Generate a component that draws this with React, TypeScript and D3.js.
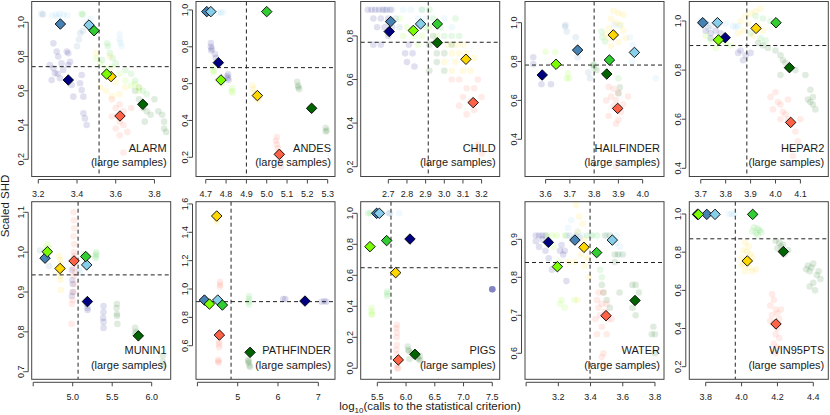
import React from 'react';
import * as d3 from 'd3';

type Pt = [number, number];
type Cloud = Record<string, Pt[]>;

const METHODS = ['navy', 'steelblue', 'lightskyblue', 'gold', 'chartreuse', 'limegreen', 'darkgreen', 'tomato'];
const COLORS: Record<string, string> = {
  navy: '#000080', steelblue: '#4682B4', lightskyblue: '#87CEEB', gold: '#FFD700',
  chartreuse: '#7CFC00', limegreen: '#32CD32', darkgreen: '#006400', tomato: '#FF6347',
};

// ---------- ALARM ----------
const alarmDiamonds: Record<string, Pt> = {
  navy: [3.355, 0.663], steelblue: [3.314, 0.99], lightskyblue: [3.462, 0.984], gold: [3.576, 0.683],
  chartreuse: [3.553, 0.698], limegreen: [3.488, 0.951], darkgreen: [3.74, 0.521], tomato: [3.622, 0.453],
};
const alarmCloud: Cloud = {
  navy: [[3.278, 0.877], [3.295, 0.829], [3.303, 0.8], [3.347, 0.829], [3.355, 0.819], [3.364, 0.77], [3.26, 0.751], [3.278, 0.731], [3.286, 0.702], [3.269, 0.663], [3.312, 0.673], [3.329, 0.722], [3.355, 0.751], [3.372, 0.634], [3.381, 0.566], [3.416, 0.644], [3.424, 0.605], [3.433, 0.566], [3.433, 0.469], [3.441, 0.439], [3.45, 0.4], [3.424, 0.692], [3.3, 0.7], [3.32, 0.76]],
  steelblue: [[3.217, 1.049], [3.225, 1.045], [3.416, 0.936], [3.41, 0.9], [3.4, 0.86], [3.43, 0.95]],
  lightskyblue: [[3.29, 1.045], [3.31, 1.05], [3.33, 1.045], [3.35, 1.04], [3.3, 1.03], [3.45, 1.0], [3.47, 1.02], [3.62, 0.93], [3.62, 0.9], [3.625, 0.88], [3.63, 0.86], [3.27, 1.04]],
  gold: [[3.52, 0.62], [3.55, 0.6], [3.58, 0.57], [3.6, 0.65], [3.62, 0.58], [3.65, 0.62], [3.5, 0.82], [3.57, 0.8], [3.72, 0.62]],
  chartreuse: [[3.5, 0.79], [3.52, 0.76], [3.55, 0.73], [3.58, 0.74], [3.62, 0.7], [3.65, 0.66], [3.68, 0.63], [3.7, 0.64], [3.72, 0.6]],
  limegreen: [[3.424, 1.049], [3.43, 1.045], [3.555, 0.877], [3.56, 0.86], [3.57, 0.82], [3.585, 0.79], [3.53, 0.78], [3.6, 0.76], [3.65, 0.72], [3.68, 0.7], [3.7, 0.66], [3.72, 0.62], [3.74, 0.6], [3.76, 0.58]],
  darkgreen: [[3.72, 0.55], [3.74, 0.5], [3.76, 0.48], [3.78, 0.46], [3.8, 0.55], [3.82, 0.48], [3.84, 0.46], [3.85, 0.42], [3.85, 0.38], [3.86, 0.36], [3.75, 0.42], [3.7, 0.6]],
  tomato: [[3.58, 0.55], [3.6, 0.5], [3.62, 0.52], [3.64, 0.48], [3.62, 0.42], [3.64, 0.4], [3.6, 0.38], [3.66, 0.36], [3.62, 0.34], [3.68, 0.5], [3.64, 0.24], [3.58, 0.45]],
};

// ---------- ANDES ----------
const andesDiamonds: Record<string, Pt> = {
  navy: [4.762, 0.714], steelblue: [4.705, 0.991], lightskyblue: [4.725, 0.991], gold: [4.954, 0.535],
  chartreuse: [4.775, 0.62], limegreen: [5.0, 0.991], darkgreen: [5.221, 0.466], tomato: [5.062, 0.216],
};
const andesCloud: Cloud = {
  lightskyblue: [[4.76, 0.985], [4.775, 0.985], [4.785, 0.988]],
  navy: [[4.725, 0.82], [4.725, 0.8], [4.727, 0.78], [4.73, 0.79], [4.745, 0.76], [4.75, 0.74], [4.81, 0.65], [4.81, 0.63], [4.812, 0.62], [4.805, 0.64]],
  chartreuse: [[4.735, 0.69], [4.737, 0.67], [4.74, 0.66], [4.83, 0.575], [4.828, 0.56], [4.83, 0.55], [4.78, 0.6], [4.77, 0.61]],
  gold: [[4.93, 0.59], [4.935, 0.57], [4.94, 0.55], [4.95, 0.52], [4.96, 0.51], [4.965, 0.53]],
  darkgreen: [[5.15, 0.61], [5.155, 0.59], [5.16, 0.57], [5.155, 0.58], [5.29, 0.36], [5.295, 0.345], [5.29, 0.34]],
  tomato: [[5.05, 0.31], [5.045, 0.29], [5.05, 0.27], [5.055, 0.25], [5.06, 0.23], [5.065, 0.19], [5.07, 0.17], [5.07, 0.15]],
};

// ---------- CHILD ----------
const childDiamonds: Record<string, Pt> = {
  navy: [2.705, 0.82], steelblue: [2.7125, 0.866], lightskyblue: [2.873, 0.855], gold: [3.116, 0.693],
  chartreuse: [2.834, 0.825], limegreen: [2.9625, 0.855], darkgreen: [2.9625, 0.769], tomato: [3.155, 0.494],
};
const childCloud: Cloud = {
  navy: [[2.59, 0.92], [2.61, 0.92], [2.63, 0.92], [2.65, 0.92], [2.67, 0.92], [2.69, 0.92], [2.71, 0.92], [2.62, 0.88], [2.66, 0.88], [2.7, 0.88], [2.64, 0.84], [2.68, 0.84], [2.72, 0.84], [2.7, 0.8], [2.66, 0.76], [2.62, 0.76], [2.81, 0.76], [2.79, 0.72], [2.83, 0.72], [2.8, 0.68], [2.84, 0.66]],
  steelblue: [[2.68, 0.92], [2.72, 0.92], [2.74, 0.88], [2.7, 0.86], [2.76, 0.84]],
  lightskyblue: [[2.78, 0.92], [2.82, 0.92], [2.86, 0.88], [2.9, 0.88], [2.84, 0.84], [2.88, 0.92], [3.0, 0.88], [3.04, 0.84]],
  chartreuse: [[2.76, 0.88], [2.8, 0.84], [2.84, 0.8], [2.88, 0.8], [2.92, 0.84], [2.96, 0.8], [2.78, 0.8], [2.86, 0.76]],
  limegreen: [[2.88, 0.92], [2.92, 0.92], [2.94, 0.88], [2.98, 0.84], [3.0, 0.8], [3.04, 0.8], [3.08, 0.8], [2.9, 0.84], [3.06, 0.88]],
  darkgreen: [[2.92, 0.76], [2.96, 0.72], [3.0, 0.72], [2.96, 0.68], [2.92, 0.64], [3.0, 0.64], [3.04, 0.76], [2.94, 0.8]],
  gold: [[3.02, 0.76], [3.06, 0.76], [3.1, 0.76], [3.04, 0.72], [3.08, 0.72], [3.12, 0.72], [3.0, 0.68], [3.06, 0.68], [3.1, 0.64], [3.14, 0.64], [3.04, 0.64], [3.16, 0.7]],
  tomato: [[3.04, 0.6], [3.08, 0.6], [3.12, 0.56], [3.16, 0.56], [3.1, 0.52], [3.14, 0.5], [3.08, 0.48], [3.16, 0.46], [3.12, 0.44], [3.18, 0.6], [3.2, 0.52], [3.18, 0.3], [3.2, 0.26], [3.16, 0.28]],
};

// ---------- HAILFINDER ----------
const hailDiamonds: Record<string, Pt> = {
  navy: [3.586, 0.731], steelblue: [3.732, 0.859], lightskyblue: [3.966, 0.847], gold: [3.879, 0.937],
  chartreuse: [3.643, 0.786], limegreen: [3.863, 0.808], darkgreen: [3.852, 0.736], tomato: [3.897, 0.559],
};
const hailCloud: Cloud = {
  navy: [[3.549, 0.822], [3.549, 0.787], [3.583, 0.683], [3.622, 0.683], [3.583, 0.72]],
  steelblue: [[3.682, 0.988], [3.687, 0.954], [3.724, 0.925], [3.732, 0.822], [3.776, 0.744], [3.783, 0.714], [3.68, 0.98]],
  lightskyblue: [[3.883, 0.988], [3.905, 0.984], [3.948, 0.925], [3.96, 0.885], [4.054, 0.714], [3.955, 0.8]],
  chartreuse: [[3.6, 0.851], [3.64, 0.848], [3.687, 0.714], [3.697, 0.714], [3.692, 0.74]],
  limegreen: [[3.831, 0.954], [3.834, 0.925], [3.845, 0.903], [3.9, 0.714], [3.797, 0.782], [3.8, 0.765]],
  darkgreen: [[3.797, 0.782], [3.81, 0.756], [3.906, 0.667], [3.9, 0.636]],
  gold: [[3.88, 1.06], [3.9, 1.05], [3.92, 1.04], [3.87, 1.02], [3.89, 1.0], [3.91, 0.99], [3.86, 0.97], [3.88, 0.95], [3.92, 0.96], [3.86, 0.92], [3.9, 0.9], [3.87, 0.88], [3.93, 0.92], [3.85, 0.94]],
  tomato: [[3.86, 0.67], [3.88, 0.66], [3.9, 0.64], [3.87, 0.62], [3.85, 0.6], [3.89, 0.6], [3.92, 0.58], [3.88, 0.57], [3.91, 0.54], [3.86, 0.52], [3.9, 0.5], [3.89, 0.48], [3.94, 0.62], [3.9, 0.28], [3.89, 0.26]],
};

// ---------- HEPAR2 ----------
const heparDiamonds: Record<string, Pt> = {
  navy: [3.798, 0.932], steelblue: [3.708, 0.993], lightskyblue: [3.767, 0.993], gold: [3.922, 0.97],
  chartreuse: [3.771, 0.923], limegreen: [4.002, 0.993], darkgreen: [4.056, 0.81], tomato: [4.061, 0.587],
};
const heparCloud: Cloud = {
  steelblue: [[3.7, 1.0], [3.72, 0.99], [3.74, 0.98], [3.73, 0.97]],
  lightskyblue: [[3.83, 0.98], [3.85, 0.98], [3.84, 0.975], [3.8, 0.99]],
  navy: [[3.72, 0.96], [3.74, 0.95], [3.76, 0.96], [3.78, 0.95], [3.74, 0.93], [3.86, 0.88], [3.88, 0.86], [3.87, 0.84], [3.85, 0.87], [3.9, 0.87]],
  chartreuse: [[3.72, 0.94], [3.74, 0.92], [3.76, 0.89], [3.8, 0.91], [3.82, 0.9], [3.78, 0.92]],
  limegreen: [[3.92, 1.02], [3.95, 1.01], [3.98, 1.0], [3.9, 0.95], [3.94, 0.93], [3.96, 0.92]],
  gold: [[3.86, 1.0], [3.88, 1.02], [3.9, 1.03], [3.92, 1.04], [3.94, 1.05], [3.89, 0.99], [3.93, 0.98], [3.95, 0.96], [3.87, 0.96], [3.91, 0.94], [3.85, 0.95]],
  darkgreen: [[3.93, 0.91], [3.95, 0.9], [3.97, 0.89], [4.0, 0.88], [4.02, 0.86], [4.03, 0.84], [4.04, 0.83], [4.02, 0.78], [4.08, 0.8], [4.12, 0.78], [4.14, 0.72], [4.15, 0.69], [4.14, 0.67], [4.15, 0.66], [4.16, 0.64], [4.13, 0.68]],
  tomato: [[4.0, 0.71], [3.98, 0.69], [4.01, 0.67], [4.02, 0.66], [3.99, 0.64], [4.03, 0.63], [4.04, 0.62], [4.05, 0.6], [4.02, 0.6], [4.06, 0.58], [4.08, 0.55], [4.09, 0.51], [4.06, 0.48], [4.07, 0.45], [4.1, 0.6], [4.05, 0.68]],
};

// ---------- MUNIN1 ----------
const muninDiamonds: Record<string, Pt> = {
  navy: [5.186, 0.876], steelblue: [4.65, 0.985], lightskyblue: [5.177, 0.968], gold: [4.84, 0.959],
  chartreuse: [4.679, 1.001], limegreen: [5.165, 0.989], darkgreen: [5.831, 0.79], tomato: [5.017, 0.978],
};
const muninCloud: Cloud = {
  steelblue: [[4.586, 1.004], [4.7, 0.965]],
  chartreuse: [[4.66, 1.01], [4.68, 1.02], [4.7, 1.01]],
  gold: [[4.83, 0.99], [4.84, 0.98], [4.85, 0.97], [4.83, 0.95], [4.84, 0.94], [4.845, 0.93], [4.85, 0.905], [4.82, 0.96]],
  tomato: [[5.01, 1.1], [5.015, 1.08], [5.02, 1.06], [5.01, 1.04], [5.02, 1.02], [5.015, 1.0], [5.02, 0.99], [5.01, 0.96], [5.015, 0.94], [5.02, 0.92], [5.01, 0.9], [5.0, 0.88], [4.99, 0.87], [4.985, 0.82], [5.03, 0.95]],
  navy: [[4.99, 0.955], [4.995, 0.93], [5.0, 0.92], [4.99, 0.89], [5.0, 0.9], [5.18, 0.87], [5.185, 0.86], [5.19, 0.855], [5.39, 0.865], [5.39, 0.85], [5.385, 0.835], [5.39, 0.825], [5.39, 0.81]],
  lightskyblue: [[5.08, 0.955], [5.09, 0.95]],
  limegreen: [[5.295, 1.0], [5.3, 0.995], [5.29, 0.99], [5.29, 0.985], [5.14, 0.995]],
  darkgreen: [[5.56, 0.87], [5.555, 0.86], [5.56, 0.845], [5.56, 0.84], [5.565, 0.82], [5.79, 0.81], [5.8, 0.8], [5.79, 0.795], [6.14, 0.74], [6.14, 0.725], [6.15, 0.715]],
};

// ---------- PATHFINDER ----------
const pathDiamonds: Record<string, Pt> = {
  navy: [6.669, 0.915], steelblue: [4.174, 0.922], lightskyblue: [4.504, 0.922], gold: [4.479, 1.515],
  chartreuse: [4.298, 0.894], limegreen: [4.62, 0.887], darkgreen: [5.306, 0.553], tomato: [4.545, 0.675],
};
const pathCloud: Cloud = {
  gold: [[4.48, 1.475], [4.48, 1.49]],
  tomato: [[4.56, 1.05], [4.565, 1.03], [4.56, 1.016], [4.54, 0.63], [4.535, 0.61], [4.54, 0.59], [4.52, 0.5], [4.525, 0.48], [4.52, 0.49]],
  limegreen: [[5.28, 0.95], [5.28, 0.93], [5.275, 0.91], [5.28, 0.89]],
  darkgreen: [[5.26, 0.5], [5.27, 0.48], [5.29, 0.46], [5.31, 0.45], [5.27, 0.49]],
  navy: [[6.13, 0.93], [6.18, 0.93], [7.08, 0.91], [7.2, 0.91], [7.15, 0.915]],
};

// ---------- PIGS ----------
const pigsDiamonds: Record<string, Pt> = {
  navy: [6.068, 0.834], steelblue: [5.488, 1.0], lightskyblue: [5.535, 1.0], gold: [5.819, 0.617],
  chartreuse: [5.372, 0.785], limegreen: [5.662, 0.824], darkgreen: [6.155, 0.09], tomato: [5.865, 0.054],
};
const pigsCloud: Cloud = {
  limegreen: [[5.34, 1.0], [5.38, 1.0], [5.67, 0.495], [5.675, 0.48], [5.67, 0.465]],
  chartreuse: [[5.4, 0.39], [5.4, 0.37], [5.405, 0.35], [5.4, 0.345]],
  steelblue: [[5.72, 1.0], [5.7, 1.0]],
  lightskyblue: [[5.88, 1.0], [5.6, 1.0]],
  navy: [[7.5, 0.51], [7.5, 0.51], [7.5, 0.51], [7.5, 0.51], [7.5, 0.51]],
  tomato: [[5.84, 0.28], [5.83, 0.26], [5.84, 0.23], [5.835, 0.2], [5.84, 0.15], [5.83, 0.12], [5.845, 0.09], [5.84, 0.02], [5.85, 0.0], [5.86, 0.0]],
  darkgreen: [[6.03, 0.14], [6.04, 0.12], [6.05, 0.11], [6.1, 0.1], [6.15, 0.08], [6.2, 0.07], [6.22, 0.06], [6.24, 0.08], [6.06, 0.06], [6.25, 0.05]],
};

// ---------- WATER ----------
const waterDiamonds: Record<string, Pt> = {
  navy: [3.138, 0.892], steelblue: [3.303, 0.898], lightskyblue: [3.535, 0.898], gold: [3.359, 0.879],
  chartreuse: [3.194, 0.828], limegreen: [3.438, 0.865], darkgreen: [3.676, 0.739], tomato: [3.496, 0.699],
};
const waterCloud: Cloud = {
  navy: [[3.06, 0.91], [3.08, 0.91], [3.1, 0.91], [3.12, 0.91], [3.06, 0.895], [3.08, 0.88], [3.12, 0.87], [3.14, 0.85], [3.22, 0.885], [3.24, 0.87], [3.23, 0.86], [3.21, 0.87], [3.16, 0.82], [3.25, 0.79], [3.1, 0.9]],
  steelblue: [[3.25, 0.91], [3.27, 0.91], [3.29, 0.9], [3.31, 0.91], [3.33, 0.905]],
  lightskyblue: [[3.32, 0.92], [3.35, 0.91], [3.4, 0.91], [3.5, 0.91], [3.56, 0.91], [3.58, 0.88], [3.58, 0.86], [3.56, 0.89], [3.28, 0.95], [3.26, 0.93]],
  chartreuse: [[3.13, 0.91], [3.16, 0.91], [3.19, 0.91], [3.24, 0.91], [3.17, 0.88], [3.2, 0.84], [3.22, 0.74], [3.21, 0.73], [3.24, 0.72], [3.3, 0.74]],
  limegreen: [[3.38, 0.91], [3.41, 0.91], [3.44, 0.91], [3.46, 0.82], [3.47, 0.8]],
  gold: [[3.31, 0.99], [3.33, 0.96], [3.35, 0.94], [3.32, 0.92], [3.36, 0.9], [3.38, 0.88], [3.34, 0.86], [3.3, 0.84], [3.36, 0.83], [3.26, 0.84], [3.39, 0.8], [3.32, 0.74], [3.38, 0.85]],
  darkgreen: [[3.49, 0.91], [3.52, 0.91], [3.55, 0.86], [3.57, 0.86], [3.6, 0.86], [3.55, 0.84], [3.47, 0.78], [3.48, 0.76], [3.5, 0.74], [3.52, 0.72], [3.66, 0.78], [3.68, 0.78], [3.7, 0.76], [3.66, 0.72], [3.68, 0.7], [3.78, 0.65], [3.8, 0.65], [3.79, 0.67], [3.8, 0.6], [3.58, 0.76]],
  tomato: [[3.45, 0.76], [3.48, 0.76], [3.44, 0.74], [3.47, 0.73], [3.5, 0.73], [3.45, 0.72], [3.49, 0.71], [3.46, 0.7], [3.43, 0.69], [3.51, 0.69], [3.47, 0.67], [3.44, 0.65], [3.5, 0.65], [3.48, 0.6], [3.47, 0.59], [3.48, 0.57], [3.53, 0.69]],
};

// ---------- WIN95PTS ----------
const winDiamonds: Record<string, Pt> = {
  navy: [3.754, 0.998], steelblue: [3.806, 0.998], lightskyblue: [3.852, 0.998], gold: [4.032, 0.754],
  chartreuse: [3.759, 0.998], limegreen: [4.062, 0.998], darkgreen: [4.233, 0.803], tomato: [4.192, 0.424],
};
const winCloud: Cloud = {
  lightskyblue: [[3.93, 1.0], [3.945, 1.0], [3.96, 1.0]],
  limegreen: [[4.07, 0.93], [4.09, 0.925], [4.1, 0.915], [4.08, 0.9], [4.11, 0.905], [4.09, 0.89], [4.06, 0.91]],
  darkgreen: [[4.19, 0.86], [4.21, 0.85], [4.23, 0.84], [4.26, 0.81], [4.2, 0.82], [4.24, 0.79], [4.22, 0.83], [4.37, 0.73], [4.39, 0.72], [4.4, 0.74], [4.38, 0.7], [4.42, 0.68], [4.44, 0.66], [4.4, 0.64], [4.38, 0.62], [4.41, 0.6], [4.36, 0.71], [4.43, 0.7]],
  gold: [[4.02, 0.85], [4.04, 0.83], [4.01, 0.81], [4.03, 0.8], [4.05, 0.79], [4.0, 0.77], [4.02, 0.76], [4.06, 0.77], [4.0, 0.73], [4.04, 0.72], [4.06, 0.7], [4.02, 0.7], [4.08, 0.71], [4.01, 0.74]],
  tomato: [[4.17, 0.58], [4.18, 0.55], [4.16, 0.52], [4.19, 0.5], [4.2, 0.48], [4.17, 0.47], [4.21, 0.45], [4.18, 0.43], [4.2, 0.4], [4.19, 0.37], [4.21, 0.35], [4.18, 0.32], [4.2, 0.3], [4.19, 0.27], [4.22, 0.5], [4.16, 0.44]],
};

// ---------- panel settings ----------
const PANEL_NAMES = ['ALARM', 'ANDES', 'CHILD', 'HAILFINDER', 'HEPAR2', 'MUNIN1', 'PATHFINDER', 'PIGS', 'WATER', 'WIN95PTS'];
const X_DOMAINS: Pt[] = [[3.166, 3.884], [4.652, 5.336], [2.552, 3.297], [3.515, 4.088], [3.654, 4.212], [4.481, 6.2405], [3.965, 7.414], [5.211, 7.629], [2.993, 3.856], [3.7085, 4.4837]];
const Y_DOMAINS: Pt[] = [[0.0996, 1.1215], [0.0957, 1.046], [0.155, 0.958], [0.2085, 1.109], [0.3666, 1.0794], [0.681, 1.1266], [0.363, 1.616], [-0.071, 1.075], [0.5316, 0.999], [0.134, 1.0644]];
const X_TICKS: number[][] = [[3.2, 3.4, 3.6, 3.8], [4.7, 4.8, 4.9, 5.0, 5.1, 5.2, 5.3], [2.7, 2.8, 2.9, 3.0, 3.1, 3.2], [3.6, 3.7, 3.8, 3.9, 4.0], [3.7, 3.8, 3.9, 4.0, 4.1], [5.0, 5.5, 6.0], [5, 6, 7], [5.5, 6.0, 6.5, 7.0, 7.5], [3.2, 3.4, 3.6, 3.8], [3.8, 4.0, 4.2, 4.4]];
const X_UNLABELLED: number[][] = [[], [], [], [], [], [4.5], [4], [], [3.0], []];
const X_FORMATS = ['.1f', '.1f', '.1f', '.1f', '.1f', '.1f', 'd', '.1f', '.1f', '.1f'];
const Y_TICKS: number[][] = [[0.2, 0.4, 0.6, 0.8, 1.0], [0.2, 0.4, 0.6, 0.8, 1.0], [0.2, 0.4, 0.6, 0.8], [0.4, 0.6, 0.8, 1.0], [0.4, 0.6, 0.8, 1.0], [0.7, 0.8, 0.9, 1.0, 1.1], [0.6, 0.8, 1.0, 1.2, 1.4, 1.6], [0.0, 0.2, 0.4, 0.6, 0.8, 1.0], [0.6, 0.7, 0.8, 0.9], [0.2, 0.4, 0.6, 0.8, 1.0]];
const H_LINES = [0.741, 0.687, 0.771, 0.782, 0.9, 0.943, 0.911, 0.649, 0.839, 0.87];
const V_LINES = [3.514, 4.9, 2.914, 3.8, 3.885, 5.068, 4.835, 5.738, 3.397, 3.965];
const DIAMONDS = [alarmDiamonds, andesDiamonds, childDiamonds, hailDiamonds, heparDiamonds, muninDiamonds, pathDiamonds, pigsDiamonds, waterDiamonds, winDiamonds];
const CLOUDS = [alarmCloud, andesCloud, childCloud, hailCloud, heparCloud, muninCloud, pathCloud, pigsCloud, waterCloud, winCloud];

const COL_LEFT = [31.7, 196, 360.7, 525, 689.3];
const PANEL_W = 139;
const ROW_TOP = [1.5, 201.7];
const ROW_BOTTOM = [176.5, 379.3];
const FONT = '"Liberation Sans", Arial, Helvetica, sans-serif';
const TXT = '#1a1a1a';

function Panel({ i }: { i: number }) {
  const col = i % 5;
  const row = Math.floor(i / 5);
  const left = COL_LEFT[col];
  const right = left + PANEL_W;
  const top = ROW_TOP[row];
  const bottom = ROW_BOTTOM[row];
  const x = d3.scaleLinear().domain(X_DOMAINS[i]).range([left, right]);
  const y = d3.scaleLinear().domain(Y_DOMAINS[i]).range([bottom, top]);
  const xf = d3.format(X_FORMATS[i]);
  const yf = d3.format('.1f');
  const diamond = d3.symbol().type(d3.symbolDiamond2).size(70)();
  const clipId = `clip${i}`;
  const xt = X_TICKS[i];
  const allXt = [...X_UNLABELLED[i], ...xt].sort((a, b) => a - b);
  const yt = Y_TICKS[i];
  const cloud = CLOUDS[i];
  const dia = DIAMONDS[i];
  const axY = bottom + 3;
  const axX = left - 3.5;
  return (
    <g>
      <defs>
        <clipPath id={clipId}>
          <rect x={left} y={top} width={right - left} height={bottom - top} />
        </clipPath>
      </defs>
      <g clipPath={`url(#${clipId})`}>
        {METHODS.map((m) =>
          (cloud[m] || []).map((p, k) => (
            <circle key={m + k} cx={x(p[0])} cy={y(p[1])} r={3.3} fill={COLORS[m]} fillOpacity={0.12} />
          ))
        )}
        <line x1={left} x2={right} y1={y(H_LINES[i])} y2={y(H_LINES[i])} stroke="#222" strokeWidth={1} strokeDasharray="4,3" />
        <line x1={x(V_LINES[i])} x2={x(V_LINES[i])} y1={top} y2={bottom} stroke="#222" strokeWidth={1} strokeDasharray="4,3" />
        {METHODS.map((m) => {
          const p = dia[m];
          return (
            <path key={m} d={diamond} transform={`translate(${x(p[0])},${y(p[1])})`} fill={COLORS[m]} stroke="#000" strokeWidth={0.9} />
          );
        })}
      </g>
      <rect x={left} y={top} width={right - left} height={bottom - top} fill="none" stroke="#444" strokeWidth={1} />
      {/* x axis */}
      <line x1={x(allXt[0])} x2={x(allXt[allXt.length - 1])} y1={axY} y2={axY} stroke="#444" />
      {allXt.map((t) => (
        <line key={'xt' + t} x1={x(t)} x2={x(t)} y1={axY} y2={axY + 4} stroke="#444" />
      ))}
      {xt.map((t) => (
        <text key={'xl' + t} x={x(t)} y={bottom + 20.3} textAnchor="middle" fontSize={9} fontFamily={FONT} fill={TXT}>
          {xf(t)}
        </text>
      ))}
      {/* y axis */}
      <line x1={axX} x2={axX} y1={y(yt[0])} y2={y(yt[yt.length - 1])} stroke="#444" />
      {yt.map((t) => (
        <line key={'yt' + t} x1={axX} x2={axX - 4} y1={y(t)} y2={y(t)} stroke="#444" />
      ))}
      {yt.map((t) => (
        <text key={'yl' + t} transform={`translate(${left - 8},${y(t)}) rotate(-90)`} textAnchor="middle" fontSize={9} fontFamily={FONT} fill={TXT}>
          {yf(t)}
        </text>
      ))}
      <text x={right - 4} y={bottom - 25} textAnchor="end" fontSize={11} fontFamily={FONT} fill={TXT}>
        {PANEL_NAMES[i]}
      </text>
      <text x={right - 4} y={bottom - 10.5} textAnchor="end" fontSize={11} fontFamily={FONT} fill={TXT}>
        (large samples)
      </text>
    </g>
  );
}

export default function App() {
  return (
    <svg width={830} height={415} style={{ position: 'absolute', left: 0, top: 0, background: '#fff' }}>
      <rect width={830} height={415} fill="#fff" />
      {PANEL_NAMES.map((_, i) => (
        <Panel key={i} i={i} />
      ))}
      <text transform="translate(9,206) rotate(-90)" textAnchor="middle" fontSize={11.5} fontFamily={FONT} fill={TXT}>
        Scaled SHD
      </text>
      <text x={430} y={410} textAnchor="middle" fontSize={11.5} fontFamily={FONT} fill={TXT}>
        log<tspan fontSize={8} dy={3}>10</tspan>
        <tspan dy={-3}>(calls to the statistical criterion)</tspan>
      </text>
    </svg>
  );
}
